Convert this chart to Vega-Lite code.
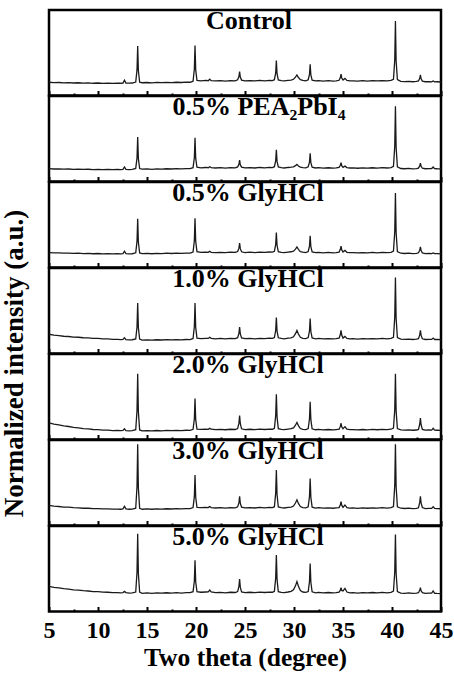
{
"$schema": "https://vega.github.io/schema/vega-lite/v6.json",
"padding": {"left": 0, "top": 6, "right": 0, "bottom": 2},
"background": "white",
"title": {"text": "Normalized intensity (a.u.)", "orient": "left", "anchor": "middle", "frame": "bounds", "offset": -14, "baseline": "bottom", "fontSize": 27, "dx": -24, "font": "Liberation Serif", "fontWeight": "bold", "color": "black"},
"data": {"values": [
{"x":5,"a":0.155,"b":0.150,"c":0.175,"d":0.225,"e":0.195,"f":0.235,"g":0.295},
{"x":5.5,"a":0.150,"b":0.146,"c":0.170,"d":0.214,"e":0.180,"f":0.226,"g":0.283},
{"x":6,"a":0.152,"b":0.148,"c":0.172,"d":0.210,"e":0.172,"f":0.222,"g":0.276},
{"x":6.5,"a":0.148,"b":0.144,"c":0.167,"d":0.202,"e":0.160,"f":0.216,"g":0.268},
{"x":7,"a":0.150,"b":0.146,"c":0.169,"d":0.199,"e":0.152,"f":0.214,"g":0.262},
{"x":7.5,"a":0.146,"b":0.142,"c":0.165,"d":0.192,"e":0.142,"f":0.208,"g":0.254},
{"x":8,"a":0.149,"b":0.145,"c":0.167,"d":0.190,"e":0.137,"f":0.207,"g":0.250},
{"x":8.5,"a":0.145,"b":0.141,"c":0.163,"d":0.184,"e":0.128,"f":0.202,"g":0.243},
{"x":9,"a":0.147,"b":0.143,"c":0.165,"d":0.182,"e":0.124,"f":0.202,"g":0.240},
{"x":9.5,"a":0.143,"b":0.140,"c":0.161,"d":0.177,"e":0.117,"f":0.198,"g":0.233},
{"x":10,"a":0.146,"b":0.142,"c":0.164,"d":0.176,"e":0.115,"f":0.198,"g":0.232},
{"x":10.5,"a":0.142,"b":0.139,"c":0.160,"d":0.171,"e":0.110,"f":0.194,"g":0.226},
{"x":11,"a":0.145,"b":0.141,"c":0.162,"d":0.170,"e":0.109,"f":0.195,"g":0.225},
{"x":11.5,"a":0.141,"b":0.138,"c":0.159,"d":0.166,"e":0.104,"f":0.191,"g":0.220},
{"x":12,"a":0.144,"b":0.141,"c":0.161,"d":0.165,"e":0.105,"f":0.192,"g":0.221},
{"x":12.3,"a":0.143,"b":0.140,"c":0.160,"d":0.163,"e":0.103,"f":0.190,"g":0.218},
{"x":12.55,"a":0.146,"b":0.142,"c":0.163,"d":0.165,"e":0.106,"f":0.194,"g":0.222},
{"x":12.7,"a":0.180,"b":0.170,"c":0.190,"d":0.185,"e":0.125,"f":0.225,"g":0.235},
{"x":12.85,"a":0.146,"b":0.142,"c":0.163,"d":0.162,"e":0.104,"f":0.194,"g":0.221},
{"x":13.2,"a":0.144,"b":0.140,"c":0.160,"d":0.160,"e":0.102,"f":0.190,"g":0.216},
{"x":13.5,"a":0.146,"b":0.142,"c":0.161,"d":0.161,"e":0.104,"f":0.192,"g":0.218},
{"x":13.85,"a":0.157,"b":0.153,"c":0.172,"d":0.170,"e":0.114,"f":0.202,"g":0.228},
{"x":13.98,"a":0.299,"b":0.275,"c":0.305,"d":0.310,"e":0.337,"f":0.457,"g":0.460},
{"x":14.05,"a":0.580,"b":0.520,"c":0.570,"d":0.590,"e":0.770,"f":0.950,"g":0.910},
{"x":14.12,"a":0.290,"b":0.265,"c":0.295,"d":0.300,"e":0.325,"f":0.440,"g":0.445},
{"x":14.25,"a":0.155,"b":0.151,"c":0.170,"d":0.168,"e":0.112,"f":0.200,"g":0.226},
{"x":14.5,"a":0.149,"b":0.144,"c":0.162,"d":0.157,"e":0.101,"f":0.190,"g":0.213},
{"x":15,"a":0.152,"b":0.147,"c":0.165,"d":0.160,"e":0.104,"f":0.194,"g":0.217},
{"x":15.5,"a":0.148,"b":0.143,"c":0.161,"d":0.156,"e":0.100,"f":0.190,"g":0.212},
{"x":16,"a":0.153,"b":0.148,"c":0.166,"d":0.161,"e":0.105,"f":0.195,"g":0.218},
{"x":16.5,"a":0.150,"b":0.145,"c":0.163,"d":0.158,"e":0.102,"f":0.192,"g":0.214},
{"x":17,"a":0.154,"b":0.149,"c":0.167,"d":0.162,"e":0.106,"f":0.196,"g":0.219},
{"x":17.5,"a":0.151,"b":0.146,"c":0.164,"d":0.159,"e":0.103,"f":0.193,"g":0.215},
{"x":18,"a":0.155,"b":0.150,"c":0.168,"d":0.163,"e":0.107,"f":0.197,"g":0.220},
{"x":18.5,"a":0.152,"b":0.147,"c":0.165,"d":0.160,"e":0.104,"f":0.194,"g":0.216},
{"x":19,"a":0.156,"b":0.151,"c":0.169,"d":0.164,"e":0.108,"f":0.198,"g":0.221},
{"x":19.4,"a":0.155,"b":0.150,"c":0.168,"d":0.163,"e":0.107,"f":0.197,"g":0.220},
{"x":19.7,"a":0.167,"b":0.162,"c":0.180,"d":0.176,"e":0.119,"f":0.210,"g":0.232},
{"x":19.83,"a":0.307,"b":0.277,"c":0.312,"d":0.314,"e":0.239,"f":0.337,"g":0.354},
{"x":19.9,"a":0.585,"b":0.510,"c":0.575,"d":0.590,"e":0.480,"f":0.590,"g":0.600},
{"x":19.97,"a":0.300,"b":0.270,"c":0.305,"d":0.305,"e":0.232,"f":0.330,"g":0.345},
{"x":20.1,"a":0.177,"b":0.167,"c":0.185,"d":0.180,"e":0.120,"f":0.212,"g":0.232},
{"x":20.5,"a":0.172,"b":0.160,"c":0.176,"d":0.175,"e":0.118,"f":0.208,"g":0.225},
{"x":21,"a":0.176,"b":0.164,"c":0.179,"d":0.178,"e":0.121,"f":0.211,"g":0.228},
{"x":21.25,"a":0.173,"b":0.161,"c":0.177,"d":0.176,"e":0.119,"f":0.209,"g":0.229},
{"x":21.4,"a":0.190,"b":0.172,"c":0.190,"d":0.190,"e":0.130,"f":0.222,"g":0.250},
{"x":21.55,"a":0.174,"b":0.162,"c":0.178,"d":0.177,"e":0.120,"f":0.210,"g":0.230},
{"x":22,"a":0.170,"b":0.158,"c":0.174,"d":0.172,"e":0.115,"f":0.205,"g":0.220},
{"x":22.5,"a":0.174,"b":0.162,"c":0.178,"d":0.176,"e":0.119,"f":0.209,"g":0.224},
{"x":23,"a":0.169,"b":0.157,"c":0.173,"d":0.171,"e":0.114,"f":0.204,"g":0.219},
{"x":23.5,"a":0.175,"b":0.163,"c":0.179,"d":0.177,"e":0.120,"f":0.210,"g":0.225},
{"x":24,"a":0.172,"b":0.160,"c":0.176,"d":0.174,"e":0.117,"f":0.207,"g":0.222},
{"x":24.25,"a":0.183,"b":0.171,"c":0.187,"d":0.185,"e":0.128,"f":0.218,"g":0.233},
{"x":24.38,"a":0.221,"b":0.201,"c":0.226,"d":0.236,"e":0.191,"f":0.267,"g":0.294},
{"x":24.45,"a":0.280,"b":0.250,"c":0.285,"d":0.310,"e":0.280,"f":0.340,"g":0.380},
{"x":24.52,"a":0.215,"b":0.196,"c":0.220,"d":0.230,"e":0.185,"f":0.260,"g":0.285},
{"x":24.65,"a":0.180,"b":0.168,"c":0.184,"d":0.182,"e":0.125,"f":0.215,"g":0.230},
{"x":25,"a":0.171,"b":0.159,"c":0.175,"d":0.173,"e":0.116,"f":0.206,"g":0.221},
{"x":25.5,"a":0.175,"b":0.163,"c":0.179,"d":0.177,"e":0.120,"f":0.210,"g":0.225},
{"x":26,"a":0.170,"b":0.158,"c":0.174,"d":0.172,"e":0.115,"f":0.205,"g":0.220},
{"x":26.5,"a":0.176,"b":0.164,"c":0.180,"d":0.178,"e":0.121,"f":0.211,"g":0.226},
{"x":27,"a":0.172,"b":0.160,"c":0.176,"d":0.174,"e":0.117,"f":0.207,"g":0.222},
{"x":27.5,"a":0.177,"b":0.165,"c":0.181,"d":0.179,"e":0.122,"f":0.212,"g":0.227},
{"x":27.8,"a":0.175,"b":0.163,"c":0.179,"d":0.177,"e":0.120,"f":0.210,"g":0.225},
{"x":28,"a":0.185,"b":0.173,"c":0.189,"d":0.187,"e":0.130,"f":0.220,"g":0.235},
{"x":28.13,"a":0.264,"b":0.242,"c":0.267,"d":0.269,"e":0.276,"f":0.377,"g":0.390},
{"x":28.2,"a":0.410,"b":0.370,"c":0.410,"d":0.420,"e":0.530,"f":0.650,"g":0.660},
{"x":28.27,"a":0.255,"b":0.235,"c":0.260,"d":0.262,"e":0.265,"f":0.360,"g":0.375},
{"x":28.4,"a":0.182,"b":0.170,"c":0.186,"d":0.184,"e":0.127,"f":0.217,"g":0.232},
{"x":28.7,"a":0.174,"b":0.162,"c":0.178,"d":0.176,"e":0.119,"f":0.209,"g":0.224},
{"x":29,"a":0.170,"b":0.158,"c":0.174,"d":0.172,"e":0.115,"f":0.205,"g":0.220},
{"x":29.4,"a":0.176,"b":0.164,"c":0.180,"d":0.179,"e":0.121,"f":0.211,"g":0.228},
{"x":29.7,"a":0.180,"b":0.167,"c":0.184,"d":0.183,"e":0.126,"f":0.216,"g":0.235},
{"x":29.95,"a":0.190,"b":0.172,"c":0.192,"d":0.195,"e":0.135,"f":0.228,"g":0.255},
{"x":30.15,"a":0.214,"b":0.185,"c":0.215,"d":0.232,"e":0.167,"f":0.263,"g":0.300},
{"x":30.3,"a":0.240,"b":0.200,"c":0.240,"d":0.270,"e":0.200,"f":0.300,"g":0.350},
{"x":30.45,"a":0.210,"b":0.182,"c":0.212,"d":0.228,"e":0.163,"f":0.258,"g":0.295},
{"x":30.65,"a":0.185,"b":0.168,"c":0.186,"d":0.190,"e":0.128,"f":0.222,"g":0.245},
{"x":30.9,"a":0.176,"b":0.163,"c":0.179,"d":0.177,"e":0.119,"f":0.210,"g":0.228},
{"x":31.2,"a":0.172,"b":0.160,"c":0.175,"d":0.174,"e":0.116,"f":0.206,"g":0.223},
{"x":31.45,"a":0.184,"b":0.172,"c":0.187,"d":0.186,"e":0.128,"f":0.218,"g":0.233},
{"x":31.58,"a":0.247,"b":0.226,"c":0.250,"d":0.265,"e":0.240,"f":0.338,"g":0.351},
{"x":31.65,"a":0.365,"b":0.330,"c":0.370,"d":0.410,"e":0.440,"f":0.550,"g":0.560},
{"x":31.72,"a":0.240,"b":0.220,"c":0.243,"d":0.257,"e":0.232,"f":0.330,"g":0.342},
{"x":31.85,"a":0.180,"b":0.168,"c":0.183,"d":0.183,"e":0.125,"f":0.215,"g":0.230},
{"x":32.2,"a":0.170,"b":0.158,"c":0.173,"d":0.172,"e":0.114,"f":0.204,"g":0.219},
{"x":32.5,"a":0.174,"b":0.162,"c":0.177,"d":0.176,"e":0.118,"f":0.208,"g":0.223},
{"x":33,"a":0.169,"b":0.157,"c":0.172,"d":0.171,"e":0.113,"f":0.203,"g":0.218},
{"x":33.5,"a":0.173,"b":0.161,"c":0.176,"d":0.175,"e":0.117,"f":0.207,"g":0.222},
{"x":34,"a":0.168,"b":0.156,"c":0.171,"d":0.170,"e":0.112,"f":0.202,"g":0.217},
{"x":34.3,"a":0.172,"b":0.160,"c":0.175,"d":0.174,"e":0.116,"f":0.206,"g":0.221},
{"x":34.6,"a":0.178,"b":0.165,"c":0.180,"d":0.180,"e":0.120,"f":0.210,"g":0.226},
{"x":34.73,"a":0.210,"b":0.190,"c":0.212,"d":0.222,"e":0.153,"f":0.243,"g":0.250},
{"x":34.8,"a":0.250,"b":0.220,"c":0.250,"d":0.270,"e":0.190,"f":0.280,"g":0.280},
{"x":34.87,"a":0.205,"b":0.186,"c":0.207,"d":0.215,"e":0.148,"f":0.238,"g":0.246},
{"x":35,"a":0.180,"b":0.166,"c":0.182,"d":0.180,"e":0.125,"f":0.212,"g":0.240},
{"x":35.2,"a":0.200,"b":0.180,"c":0.200,"d":0.200,"e":0.150,"f":0.240,"g":0.270},
{"x":35.4,"a":0.176,"b":0.163,"c":0.178,"d":0.177,"e":0.120,"f":0.209,"g":0.228},
{"x":35.7,"a":0.171,"b":0.158,"c":0.173,"d":0.172,"e":0.115,"f":0.204,"g":0.219},
{"x":36,"a":0.172,"b":0.159,"c":0.174,"d":0.173,"e":0.116,"f":0.205,"g":0.220},
{"x":36.5,"a":0.168,"b":0.155,"c":0.170,"d":0.169,"e":0.112,"f":0.201,"g":0.216},
{"x":37,"a":0.173,"b":0.160,"c":0.175,"d":0.174,"e":0.117,"f":0.206,"g":0.221},
{"x":37.5,"a":0.169,"b":0.156,"c":0.171,"d":0.170,"e":0.113,"f":0.202,"g":0.217},
{"x":38,"a":0.174,"b":0.161,"c":0.176,"d":0.175,"e":0.118,"f":0.207,"g":0.222},
{"x":38.5,"a":0.170,"b":0.157,"c":0.172,"d":0.171,"e":0.114,"f":0.203,"g":0.218},
{"x":39,"a":0.175,"b":0.162,"c":0.177,"d":0.176,"e":0.119,"f":0.208,"g":0.223},
{"x":39.5,"a":0.171,"b":0.158,"c":0.173,"d":0.172,"e":0.115,"f":0.204,"g":0.219},
{"x":39.9,"a":0.176,"b":0.163,"c":0.178,"d":0.177,"e":0.120,"f":0.209,"g":0.224},
{"x":40.15,"a":0.190,"b":0.177,"c":0.192,"d":0.190,"e":0.133,"f":0.222,"g":0.238},
{"x":40.28,"a":0.416,"b":0.411,"c":0.418,"d":0.424,"e":0.345,"f":0.466,"g":0.458},
{"x":40.35,"a":0.870,"b":0.880,"c":0.870,"d":0.890,"e":0.770,"f":0.950,"g":0.900},
{"x":40.42,"a":0.405,"b":0.400,"c":0.408,"d":0.413,"e":0.335,"f":0.455,"g":0.447},
{"x":40.55,"a":0.185,"b":0.172,"c":0.187,"d":0.186,"e":0.128,"f":0.218,"g":0.233},
{"x":40.9,"a":0.165,"b":0.152,"c":0.167,"d":0.168,"e":0.112,"f":0.202,"g":0.216},
{"x":41.3,"a":0.162,"b":0.149,"c":0.164,"d":0.165,"e":0.109,"f":0.199,"g":0.213},
{"x":41.7,"a":0.166,"b":0.153,"c":0.168,"d":0.169,"e":0.113,"f":0.203,"g":0.217},
{"x":42.1,"a":0.161,"b":0.148,"c":0.163,"d":0.164,"e":0.108,"f":0.198,"g":0.212},
{"x":42.5,"a":0.164,"b":0.151,"c":0.166,"d":0.167,"e":0.111,"f":0.201,"g":0.215},
{"x":42.7,"a":0.170,"b":0.157,"c":0.172,"d":0.173,"e":0.117,"f":0.207,"g":0.220},
{"x":42.83,"a":0.200,"b":0.182,"c":0.202,"d":0.218,"e":0.180,"f":0.270,"g":0.247},
{"x":42.9,"a":0.240,"b":0.215,"c":0.240,"d":0.270,"e":0.250,"f":0.340,"g":0.280},
{"x":42.97,"a":0.195,"b":0.178,"c":0.198,"d":0.212,"e":0.172,"f":0.262,"g":0.242},
{"x":43.1,"a":0.168,"b":0.155,"c":0.170,"d":0.172,"e":0.118,"f":0.210,"g":0.220},
{"x":43.4,"a":0.161,"b":0.149,"c":0.163,"d":0.164,"e":0.109,"f":0.198,"g":0.212},
{"x":43.8,"a":0.163,"b":0.151,"c":0.165,"d":0.166,"e":0.111,"f":0.200,"g":0.214},
{"x":44.05,"a":0.160,"b":0.152,"c":0.163,"d":0.165,"e":0.110,"f":0.200,"g":0.215},
{"x":44.2,"a":0.170,"b":0.170,"c":0.170,"d":0.180,"e":0.130,"f":0.220,"g":0.240},
{"x":44.35,"a":0.159,"b":0.151,"c":0.162,"d":0.164,"e":0.109,"f":0.199,"g":0.213},
{"x":44.6,"a":0.161,"b":0.149,"c":0.163,"d":0.164,"e":0.108,"f":0.198,"g":0.211},
{"x":45,"a":0.158,"b":0.147,"c":0.160,"d":0.162,"e":0.107,"f":0.196,"g":0.210}
]},
"vconcat": [
{"width": 392, "height": 85.5, "title": {"text": "Control", "dx": 4},
 "mark": {"type": "line", "color": "#1a1a1a", "strokeWidth": 1.3, "clip": true},
 "encoding": {
  "x": {"field": "x", "type": "quantitative", "scale": {"domain": [5, 45], "nice": false}, "axis": {"values": [5,7.5,10,12.5,15,17.5,20,22.5,25,27.5,30,32.5,35,37.5,40,42.5,45], "labels": false, "title": null, "tickSize": {"condition": {"test": "datum.value % 5 === 0", "value": -5}, "value": -2.5}}},
  "y": {"field": "a", "type": "quantitative", "scale": {"domain": [0, 1], "nice": false}, "axis": null}}},
{"width": 392, "height": 85.5, "title": {"text": "0.5% PEA₂PbI₄", "dx": 14},
 "mark": {"type": "line", "color": "#1a1a1a", "strokeWidth": 1.3, "clip": true},
 "encoding": {
  "x": {"field": "x", "type": "quantitative", "scale": {"domain": [5, 45], "nice": false}, "axis": {"values": [5,7.5,10,12.5,15,17.5,20,22.5,25,27.5,30,32.5,35,37.5,40,42.5,45], "labels": false, "title": null, "tickSize": {"condition": {"test": "datum.value % 5 === 0", "value": -5}, "value": -2.5}}},
  "y": {"field": "b", "type": "quantitative", "scale": {"domain": [0, 1], "nice": false}, "axis": null}}},
{"width": 392, "height": 85.5, "title": {"text": "0.5% GlyHCl", "dx": 3},
 "mark": {"type": "line", "color": "#1a1a1a", "strokeWidth": 1.3, "clip": true},
 "encoding": {
  "x": {"field": "x", "type": "quantitative", "scale": {"domain": [5, 45], "nice": false}, "axis": {"values": [5,7.5,10,12.5,15,17.5,20,22.5,25,27.5,30,32.5,35,37.5,40,42.5,45], "labels": false, "title": null, "tickSize": {"condition": {"test": "datum.value % 5 === 0", "value": -5}, "value": -2.5}}},
  "y": {"field": "c", "type": "quantitative", "scale": {"domain": [0, 1], "nice": false}, "axis": null}}},
{"width": 392, "height": 85.5, "title": {"text": "1.0% GlyHCl", "dx": 3},
 "mark": {"type": "line", "color": "#1a1a1a", "strokeWidth": 1.3, "clip": true},
 "encoding": {
  "x": {"field": "x", "type": "quantitative", "scale": {"domain": [5, 45], "nice": false}, "axis": {"values": [5,7.5,10,12.5,15,17.5,20,22.5,25,27.5,30,32.5,35,37.5,40,42.5,45], "labels": false, "title": null, "tickSize": {"condition": {"test": "datum.value % 5 === 0", "value": -5}, "value": -2.5}}},
  "y": {"field": "d", "type": "quantitative", "scale": {"domain": [0, 1], "nice": false}, "axis": null}}},
{"width": 392, "height": 85.5, "title": {"text": "2.0% GlyHCl", "dx": 3},
 "mark": {"type": "line", "color": "#1a1a1a", "strokeWidth": 1.3, "clip": true},
 "encoding": {
  "x": {"field": "x", "type": "quantitative", "scale": {"domain": [5, 45], "nice": false}, "axis": {"values": [5,7.5,10,12.5,15,17.5,20,22.5,25,27.5,30,32.5,35,37.5,40,42.5,45], "labels": false, "title": null, "tickSize": {"condition": {"test": "datum.value % 5 === 0", "value": -5}, "value": -2.5}}},
  "y": {"field": "e", "type": "quantitative", "scale": {"domain": [0, 1], "nice": false}, "axis": null}}},
{"width": 392, "height": 85.5, "title": {"text": "3.0% GlyHCl", "dx": 3},
 "mark": {"type": "line", "color": "#1a1a1a", "strokeWidth": 1.3, "clip": true},
 "encoding": {
  "x": {"field": "x", "type": "quantitative", "scale": {"domain": [5, 45], "nice": false}, "axis": {"values": [5,7.5,10,12.5,15,17.5,20,22.5,25,27.5,30,32.5,35,37.5,40,42.5,45], "labels": false, "title": null, "tickSize": {"condition": {"test": "datum.value % 5 === 0", "value": -5}, "value": -2.5}}},
  "y": {"field": "f", "type": "quantitative", "scale": {"domain": [0, 1], "nice": false}, "axis": null}}},
{"width": 392, "height": 85.5, "title": {"text": "5.0% GlyHCl", "dx": 3},
 "mark": {"type": "line", "color": "#1a1a1a", "strokeWidth": 1.3, "clip": true},
 "encoding": {
  "x": {"field": "x", "type": "quantitative", "scale": {"domain": [5, 45], "nice": false}, "axis": {"values": [5,7.5,10,12.5,15,17.5,20,22.5,25,27.5,30,32.5,35,37.5,40,42.5,45], "labels": true, "labelExpr": "datum.value % 5 === 0 ? datum.label : ''", "labelPadding": 12, "title": "Two theta (degree)", "titlePadding": 3, "titleFontSize": 25.5, "tickSize": {"condition": {"test": "datum.value % 5 === 0", "value": -5}, "value": -2.5}}},
  "y": {"field": "g", "type": "quantitative", "scale": {"domain": [0, 1], "nice": false}, "axis": null}}}
],
"spacing": 0,
"bounds": "flush",
"config": {
 "view": {"stroke": "black", "strokeWidth": 2.5},
 "axis": {"domain": false, "grid": false, "tickColor": "black", "tickWidth": 2, "labelFlush": false, "labelFont": "Liberation Serif", "labelFontWeight": "bold", "labelFontSize": 24, "labelColor": "black", "titleFont": "Liberation Serif", "titleFontWeight": "bold", "titleFontSize": 24, "titleColor": "black"},
 "title": {"font": "Liberation Serif", "fontSize": 26, "fontWeight": "bold", "color": "black", "anchor": "middle", "frame": "group", "offset": -24, "baseline": "alphabetic"}
}
}
